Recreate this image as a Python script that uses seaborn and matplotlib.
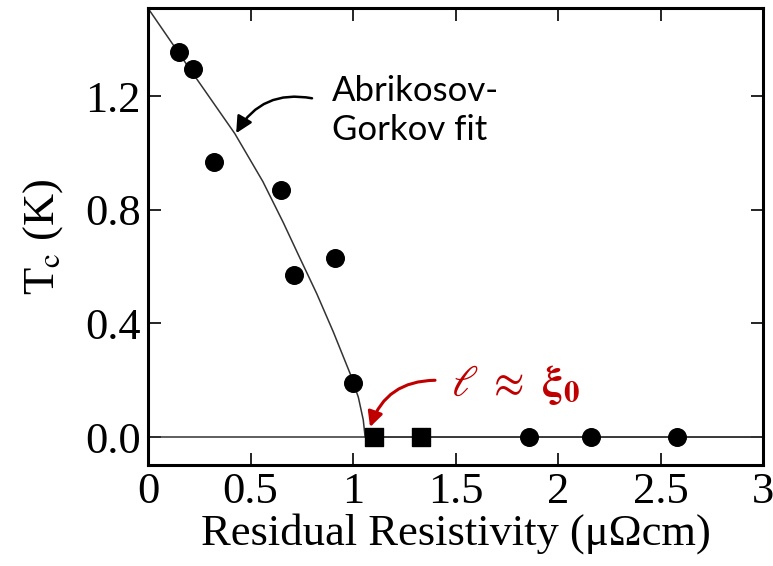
import matplotlib
matplotlib.use("Agg")
import matplotlib.pyplot as plt
import seaborn as sns
import pandas as pd

# Dados
rho_circ = [0.15, 0.22, 0.32, 0.65, 0.71, 0.91, 1.00, 1.86, 2.16, 2.58]
tc_circ = [1.355, 1.295, 0.97, 0.87, 0.572, 0.632, 0.19, 0.0, 0.0, 0.0]
rho_quad = [1.10, 1.33]
tc_quad = [0.0, 0.0]

# Curva de Abrikosov-Gorkov (pontos lidos)
rho_fit = [0.0, 0.20, 0.423, 0.56, 0.66, 0.741, 0.823, 0.904, 0.985, 1.026, 1.050, 1.059, 3.0]
tc_fit = [1.51, 1.30, 1.069, 0.90, 0.755, 0.63, 0.505, 0.37, 0.225, 0.14, 0.06, 0.0, 0.0]

xticks = [0, 0.5, 1, 1.5, 2, 2.5, 3]
xticklabels = ['0', '0.5', '1', '1.5', '2', '2.5', '3']
yticks = [0.0, 0.4, 0.8, 1.2]
yticklabels = ['0.0', '0.4', '0.8', '1.2']

sns.set_style("ticks")
plt.rcParams['font.family'] = ['Liberation Serif', 'DejaVu Serif']
plt.rcParams['mathtext.fontset'] = 'stix'
plt.rcParams['text.color'] = 'black'
plt.rcParams['axes.labelcolor'] = 'black'

fig = plt.figure(figsize=(7.73, 5.66), dpi=100)
ax = fig.add_axes([0.1915, 0.1784, 0.7956, 0.807])

df_fit = pd.DataFrame({'rho': rho_fit, 'tc': tc_fit})
sns.lineplot(data=df_fit, x='rho', y='tc', sort=False, estimator=None,
             color='#333333', lw=1.1, ax=ax)
ax.axhline(0, color='#333333', lw=1.1)

df_c = pd.DataFrame({'rho': rho_circ, 'tc': tc_circ})
df_q = pd.DataFrame({'rho': rho_quad, 'tc': tc_quad})
sns.scatterplot(data=df_c, x='rho', y='tc', marker='o', s=160, color='black',
                edgecolor='black', ax=ax, zorder=5)
sns.scatterplot(data=df_q, x='rho', y='tc', marker='s', s=150, color='black',
                edgecolor='black', ax=ax, zorder=5)

ax.set_xlim(0, 3)
ax.set_ylim(-0.0985, 1.51)
ax.set_xticks(xticks)
ax.set_xticklabels(xticklabels)
ax.set_yticks(yticks)
ax.set_yticklabels(yticklabels)
ax.tick_params(direction='in', length=9, width=1.2, labelsize=32,
               top=True, right=True, pad=5, colors='black')
for s in ax.spines.values():
    s.set_linewidth(2.2)
    s.set_color('black')

ax.set_xlabel('Residual Resistivity (\u03bc\u03a9cm)', fontsize=32, labelpad=1)
ax.set_ylabel('T$_\\mathrm{c}$ (K)', fontsize=32, labelpad=15)

# Anotação do ajuste
ax.text(0.898, 1.15, 'Abrikosov-\nGorkov fit', fontsize=25,
        family=['Lato', 'DejaVu Sans'], color='black',
        ha='left', va='center', linespacing=1.3)
ax.annotate('', xy=(0.43, 1.07), xytext=(0.80, 1.193),
            arrowprops=dict(arrowstyle='-|>,head_length=1.0,head_width=0.5',
                            color='black', lw=1.8, shrinkA=0, shrinkB=0,
                            connectionstyle='arc3,rad=0.35'))
ax.annotate('', xy=(1.083, 0.035), xytext=(1.40, 0.20),
            arrowprops=dict(arrowstyle='-|>,head_length=0.9,head_width=0.45',
                            color='#C00000', lw=2.2, shrinkA=0, shrinkB=0,
                            connectionstyle='arc3,rad=0.35'))
ax.text(1.48, 0.185, r'$\ell\ \approx\ \mathbf{\xi}_\mathbf{0}$', fontsize=32,
        color='#C00000', ha='left', va='center')

fig.savefig('out.png', dpi=100)
plt.close(fig)
